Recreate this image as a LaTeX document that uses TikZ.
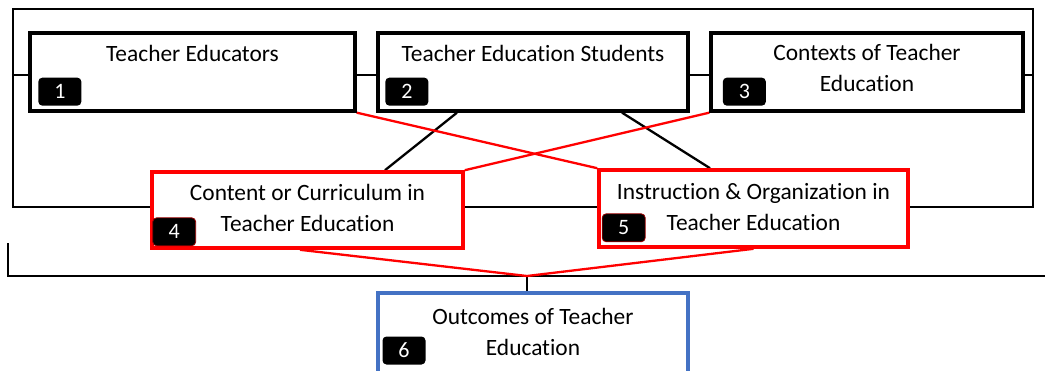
\documentclass[tikz,border=0pt]{standalone}
\usepackage{fontspec}
\setmainfont{Carlito}[Ligatures={NoCommon,NoDiscretionary,NoContextual}]
\usetikzlibrary{calc}
\definecolor{boxblue}{HTML}{4472C4}
\pgfdeclarelayer{bg}
\pgfsetlayers{bg,main}
\begin{document}
\begin{tikzpicture}[x=1pt,y=-1pt,
  blackbox/.style={draw=black, line width=3.3pt, fill=white, rectangle, inner sep=0pt},
  redbox/.style={draw=red, line width=3.6pt, fill=white, rectangle, inner sep=0pt},
  bluebox/.style={draw=boxblue, line width=3.4pt, fill=white, rectangle, inner sep=0pt},
  lbl/.style={font=\fontsize{23.4}{31}\selectfont, align=center, anchor=base, inner sep=0pt},
  badge/.style={fill=black, rounded corners=4pt, minimum width=43pt, minimum height=28pt, text=white, font=\fontsize{22}{24}\selectfont, inner sep=0pt},
  badgered/.style={badge, draw=red!60!black, line width=0.8pt},
  blackline/.style={draw=black, line width=2.3pt},
  redline/.style={draw=red, line width=2.3pt},
  framebox/.style={draw=black, line width=2.3pt, rectangle, inner sep=0pt}]

\useasboundingbox (0,0) rectangle (1045,370);
\clip (0,0) rectangle (1045,370);

% boxes
\node[blackbox, minimum width=325pt, minimum height=78pt] (box1) at (192.5,72) {};
\node[blackbox, minimum width=310pt, minimum height=78pt] (box2) at (533,72) {};
\node[blackbox, minimum width=312pt, minimum height=78pt] (box3) at (867,72) {};
\node[redbox, minimum width=311pt, minimum height=76pt] (box4) at (307.5,210) {};
\node[redbox, minimum width=309pt, minimum height=77pt] (box5) at (753.5,208.5) {};
\node[bluebox, minimum width=310pt, minimum height=92pt] (box6) at (533,339) {};

% texts (base anchor = baseline of the last line)
\node[lbl] (t1) at ($(box1.north)+(0,30)$) {Teacher Educators};
\node[lbl] (t2) at ($(box2.north)+(0,30)$) {Teacher Education Students};
\node[lbl] (t3) at ($(box3.north)+(0,60)$) {Contexts of Teacher\\Education};
\node[lbl] (t4) at ($(box4.north)+(0,61)$) {Content or Curriculum in\\Teacher Education};
\node[lbl] (t5) at ($(box5.north)+(0,62)$) {Instruction \& Organization in\\Teacher Education};
\node[lbl] (t6) at ($(box6.north)+(0,64)$) {Outcomes of Teacher\\Education};

% badges
\node[badge] (b1) at ($(box1.south west)+(31.5,-21)$) {1};
\node[badge] (b2) at ($(box2.south west)+(30.5,-21)$) {2};
\node[badge] (b3) at ($(box3.south west)+(35,-21)$) {3};
\node[badgered] (b4) at ($(box4.south west)+(24,-18)$) {4};
\node[badgered] (b5) at ($(box5.south west)+(26.5,-21)$) {5};
\node[badge] (b6) at (404,350.5) {6};

% helper coordinates
\coordinate (hy) at (0,75);
\coordinate (junction) at (527,276);
\coordinate (brtop) at (8,243);
\coordinate (brcorner) at (8,276);
\coordinate (brend) at (1050,276);

\begin{pgfonlayer}{bg}
  \node[framebox, minimum width=1020pt, minimum height=198pt] (frame) at (523,108) {};
  \draw[blackline] (frame.west |- hy) -- (box1.west |- hy);
  \draw[blackline] (box1.east |- hy) -- (box2.west |- hy);
  \draw[blackline] (box2.east |- hy) -- (box3.west |- hy);
  \draw[blackline] (box3.east |- hy) -- (frame.east |- hy);
  \draw[blackline] ($(box2.south)+(-76,0)$) -- ($(box4.north)+(77.5,0)$);
  \draw[blackline] ($(box2.south)+(89,0)$) -- ($(box5.north)+(-43.5,0)$);
  \draw[redline] (box1.south east) -- (box5.north west);
  \draw[redline] (box3.south west) -- (box4.north east);
  \draw[blackline] (brtop) -- (brcorner) -- (brend);
  \draw[blackline] (junction) -- (junction |- box6.north);
  \draw[redline] ($(box4.south)+(-7.5,0)$) -- (junction);
  \draw[redline] (box5.south) -- (junction);
\end{pgfonlayer}
\end{tikzpicture}
\end{document}
